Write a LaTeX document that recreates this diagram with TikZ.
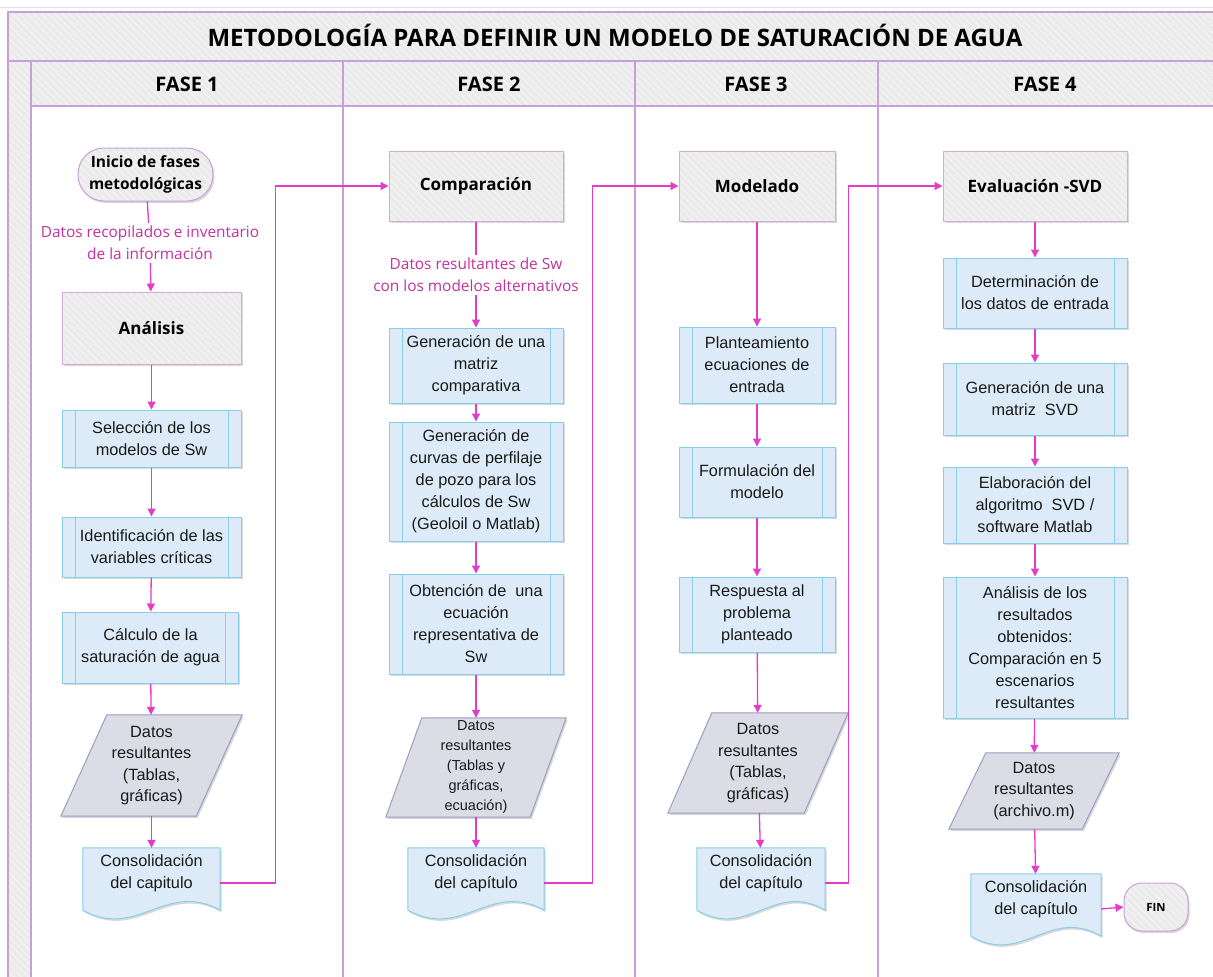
\documentclass[tikz,border=0pt]{standalone}
\usepackage{fontspec}
\setmainfont{Liberation Sans}
\newfontfamily\hfont{Open Sans}
\usetikzlibrary{arrows.meta,calc,shadows,patterns.meta,backgrounds}
\definecolor{lanecol}{RGB}{200,160,215}
\definecolor{hatchbg}{RGB}{235,235,235}
\definecolor{boldbord}{RGB}{215,170,215}
\definecolor{procfill}{RGB}{220,235,247}
\definecolor{pbord}{RGB}{135,206,235}
\definecolor{datafill}{RGB}{220,220,230}
\definecolor{databord}{RGB}{156,156,196}
\definecolor{conncol}{RGB}{228,60,200}
\definecolor{labcol}{RGB}{196,48,158}
\definecolor{txt}{RGB}{26,26,26}
\newcommand\datashape[2]{\path[datast] ([xshift=#2pt]#1.north west) -- (#1.north east) -- ([xshift=-#2pt]#1.south east) -- (#1.south west) -- cycle;}
\newcommand\docshape[1]{\path[docst] (#1.north west) -- (#1.north east) -- ($(#1.south east)+(0,12)$) .. controls ($(#1.south east)!0.4!(#1.south west)+(0,-18)$) and ($(#1.south east)!0.6!(#1.south west)+(0,42)$) .. ($(#1.south west)+(0,12)$) -- cycle;}
\begin{document}
\begin{tikzpicture}[x=1pt,y=-1pt,
  lane/.style={draw=lanecol,line width=1.2pt},
  hatch/.style={preaction={fill=hatchbg},pattern={Lines[angle=-45,distance=5pt,line width=1pt]},pattern color=white!55!hatchbg},
  shade/.style={drop shadow={shadow xshift=1.5pt,shadow yshift=-2pt,opacity=0.25,fill=black!60}},
  titletxt/.style={font=\hfont\bfseries\fontsize{24}{28}\selectfont,text=black},
  phase/.style={font=\hfont\bfseries\fontsize{20}{24}\selectfont,text=black},
  boldbox/.style={shade,hatch,draw=boldbord,line width=1pt,inner sep=0pt,align=center,text=black,font=\hfont\bfseries\fontsize{17}{22}\selectfont},
  startbox/.style={shade,hatch,draw=lanecol,line width=1pt,inner sep=0pt,align=center,text=black,font=\hfont\bfseries\fontsize{15.5}{22}\selectfont},
  proc/.style={shade,fill=procfill,draw=pbord,line width=1pt,inner sep=0pt,align=center,text=txt,font=\fontsize{16.3}{22}\selectfont,
    path picture={\draw[pbord,line width=1pt] ([xshift=13pt]path picture bounding box.north west) -- ([xshift=13pt]path picture bounding box.south west) ([xshift=-13pt]path picture bounding box.north east) -- ([xshift=-13pt]path picture bounding box.south east);}},
  datanode/.style={inner sep=0pt,align=center,text=txt,font=\fontsize{16.3}{21.5}\selectfont},
  docnode/.style={inner sep=0pt,align=center,text=txt,font=\fontsize{16.3}{21.5}\selectfont},
  datast/.style={shade,fill=datafill,draw=databord,line width=1pt},
  docst/.style={shade,fill=procfill,draw=pbord,line width=1pt},
  lab/.style={text=labcol,align=center,inner sep=3pt,font=\hfont\fontsize{15.4}{22}\selectfont},
  conn/.style={draw=conncol,line width=1.3pt,-{Triangle[length=8pt,width=8pt]}},
  connl/.style={draw=conncol,line width=1.3pt}
]
\useasboundingbox (0,0) rectangle (1213,977);
\begin{pgfonlayer}{background}
\draw[black!12,line width=1pt] (0,7) -- (1213,7);
\path[hatch] (8,12) rectangle (1214,61);
\path[hatch] (8,61) rectangle (31,978);
\path[hatch] (31,61) rectangle (1214,106);
\draw[lane] (1214,12) -- (8,12) -- (8,978);
\draw[lane] (8,61) -- (1214,61);
\draw[lane] (31,106) -- (1214,106);
\foreach \x in {31,343,635,878} \draw[lane] (\x,61) -- (\x,978);
\end{pgfonlayer}

\node[titletxt] (ttl) at (615,35) {METODOLOGÍA PARA DEFINIR UN MODELO DE SATURACIÓN DE AGUA};
\node[phase] (h1) at (187,84) {FASE 1};
\node[phase] (h2) at (489,84) {FASE 2};
\node[phase] (h3) at (756,84) {FASE 3};
\node[phase] (h4) at (1045,84) {FASE 4};

% FASE 1
\node[startbox,rounded corners=26pt,minimum width=135,minimum height=53] (ini) at (145.5,174.5) {Inicio de fases\\metodológicas};
\node[lab] (lab1) at (150,243) {Datos recopilados e inventario\\de la información};
\node[boldbox,minimum width=179,minimum height=72] (ana) at (151.5,328) {Análisis};
\node[proc,minimum width=179,minimum height=57] (s1) at (151.5,438.5) {Selección de los\\modelos de Sw};
\node[proc,minimum width=179,minimum height=60] (s2) at (151.5,547) {Identificación de las\\variables críticas};
\node[proc,minimum width=176,minimum height=71] (s3) at (150.5,647.5) {Cálculo de la\\saturación de agua};
\node[datanode,minimum width=181,minimum height=101] (d1) at (151.5,765.5) {Datos\\resultantes\\(Tablas,\\gráficas)};
\node[docnode,minimum width=137,minimum height=50] (c1) at (151.5,873) {Consolidación\\del capitulo};

% FASE 2
\node[boldbox,minimum width=174,minimum height=70] (cmp) at (476,186) {Comparación};
\node[lab] (lab2) at (476,275) {Datos resultantes de Sw\\con los modelos alternativos};
\node[proc,minimum width=174,minimum height=75] (m1) at (476,365.5) {Generación de una\\matriz\\comparativa};
\node[proc,minimum width=174,minimum height=119] (m2) at (476,481.5) {Generación de\\curvas de perfilaje\\de pozo para los\\cálculos de Sw\\(Geoloil o Matlab)};
\node[proc,minimum width=174,minimum height=100] (m3) at (476,624) {Obtención de\ \ una\\ecuación\\representativa de\\Sw};
\node[datanode,minimum width=180,minimum height=99,font=\fontsize{14.5}{20}\selectfont] (d2) at (476,767.5) {Datos\\resultantes\\(Tablas y\\gráficas,\\ecuación)};
\node[docnode,minimum width=136,minimum height=50] (c2) at (476,873) {Consolidación\\del capítulo};

% FASE 3
\node[boldbox,minimum width=156,minimum height=70] (mod) at (757,186) {Modelado};
\node[proc,minimum width=156,minimum height=76] (p1) at (757,365) {Planteamiento\\ecuaciones de\\entrada};
\node[proc,minimum width=156,minimum height=70] (p2) at (757,482) {Formulación del\\modelo};
\node[proc,minimum width=156,minimum height=75] (p3) at (757,614.5) {Respuesta al\\problema\\planteado};
\node[datanode,minimum width=180,minimum height=100] (d3) at (758,763) {Datos\\resultantes\\(Tablas,\\gráficas)};
\node[docnode,minimum width=128,minimum height=50] (c3) at (761,873) {Consolidación\\del capítulo};

% FASE 4
\node[boldbox,minimum width=184,minimum height=70] (ev) at (1035,186) {Evaluación -SVD};
\node[proc,minimum width=184,minimum height=70] (q1) at (1035,293) {Determinación de\\los datos de entrada};
\node[proc,minimum width=184,minimum height=72] (q2) at (1035,399) {Generación de una\\matriz\ \ SVD};
\node[proc,minimum width=184,minimum height=76] (q3) at (1035,505) {Elaboración del\\algoritmo\ \ SVD /\\software Matlab};
\node[proc,minimum width=184,minimum height=141] (q4) at (1035,647.5) {Análisis de los\\resultados\\obtenidos:\\Comparación en 5\\escenarios\\resultantes};
\node[datanode,minimum width=170,minimum height=76] (d4) at (1034,791) {Datos\\resultantes\\(archivo.m)};
\node[docnode,minimum width=130,minimum height=50] (c4) at (1036,899) {Consolidación\\del capítulo};
\node[startbox,rounded corners=18pt,minimum width=64,minimum height=48,font=\hfont\bfseries\fontsize{11.3}{14}\selectfont] (fin) at (1156,907) {FIN};

\begin{pgfonlayer}{background}
\datashape{d1}{46}
\datashape{d2}{36}
\datashape{d3}{44}
\datashape{d4}{37}
\docshape{c1}
\docshape{c2}
\docshape{c3}
\docshape{c4}
\end{pgfonlayer}

% connectors FASE 1
\draw[connl] (ini) -- (lab1);
\draw[conn] (lab1) -- (ana);
\draw[conn] (ana) -- (s1);
\draw[conn] (s1) -- (s2);
\draw[conn] (s2) -- (s3);
\draw[conn] (s3) -- (d1);
\draw[conn] (d1) -- (c1);
\draw[conn] ([yshift=-10pt]c1.east) -- ++(55,0) |- (cmp.west);
% FASE 2
\draw[connl] (cmp) -- (lab2);
\draw[conn] (lab2) -- (m1);
\draw[conn] (m1) -- (m2);
\draw[conn] (m2) -- (m3);
\draw[conn] (m3) -- (d2);
\draw[conn] (d2) -- (c2);
\draw[conn] ([yshift=-10pt]c2.east) -- ++(48,0) |- (mod.west);
% FASE 3
\draw[conn] (mod) -- (p1);
\draw[conn] (p1) -- (p2);
\draw[conn] (p2) -- (p3);
\draw[conn] (p3) -- (d3);
\draw[conn] (d3) -- (c3);
\draw[conn] ([yshift=-10pt]c3.east) -- ++(23,0) |- (ev.west);
% FASE 4
\draw[conn] (ev) -- (q1);
\draw[conn] (q1) -- (q2);
\draw[conn] (q2) -- (q3);
\draw[conn] (q3) -- (q4);
\draw[conn] (q4) -- (d4);
\draw[conn] (d4) -- (c4);
\draw[conn] ([yshift=-10pt]c4.east) -- (fin.west);
\end{tikzpicture}
\end{document}
